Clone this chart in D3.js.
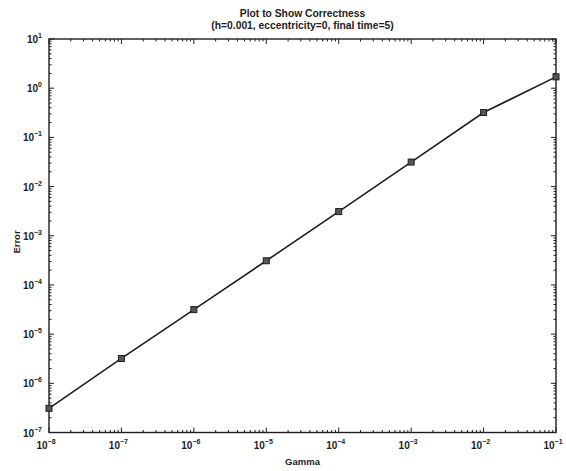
<!DOCTYPE html>
<html>
<head>
<meta charset="utf-8">
<script src="https://cdn.jsdelivr.net/npm/d3@7"></script>
<style>
  html, body { margin: 0; padding: 0; background: #fff; }
  svg { display: block; }
  text { font-family: "Liberation Sans", Arial, sans-serif; fill: #222; }
</style>
</head>
<body>
<svg id="chart" width="566" height="471"></svg>
<script>
// Error of the integrator against the perturbation parameter gamma
const gammaValues = [1e-8, 1e-7, 1e-6, 1e-5, 1e-4, 1e-3, 1e-2, 1e-1];
const errorValues = [3.1e-7, 3.2e-6, 3.15e-5, 3.1e-4, 3.1e-3, 3.15e-2, 0.32, 1.7];
const xTickExponents = [-8, -7, -6, -5, -4, -3, -2, -1];
const yTickExponents = [-7, -6, -5, -4, -3, -2, -1, 0, 1];

const titleLines = ["Plot to Show Correctness", "(h=0.001, eccentricity=0, final time=5)"];
const xLabel = "Gamma";
const yLabel = "Error";

const svg = d3.select("#chart");
const margin = { left: 49, right: 10, top: 39, bottom: 38.5 };
const W = 566, H = 471;
const x0 = margin.left, x1 = W - margin.right;
const y0 = margin.top, y1 = H - margin.bottom;

const x = d3.scaleLog().domain([1e-8, 1e-1]).range([x0, x1]);
const y = d3.scaleLog().domain([1e-7, 1e1]).range([y1, y0]);

const ink = "#1e1e1e";

// minor + major tick positions for log axes
function logTicks(lo, hi) {
  const out = [];
  for (let e = lo; e < hi; e++) {
    for (let m = 1; m < 10; m++) out.push({ v: m * Math.pow(10, e), major: m === 1 });
  }
  out.push({ v: Math.pow(10, hi), major: true });
  return out;
}

const gx = logTicks(-8, -1);
const gy = logTicks(-7, 1);

const axes = svg.append("g").attr("stroke", ink).attr("stroke-width", 1);

// inward ticks on all four sides
const majorLen = 5, minorLen = 2.5;
gx.forEach(t => {
  const px = x(t.v), L = t.major ? majorLen : minorLen;
  axes.append("line").attr("x1", px).attr("x2", px).attr("y1", y1).attr("y2", y1 - L);
  axes.append("line").attr("x1", px).attr("x2", px).attr("y1", y0).attr("y2", y0 + L);
});
gy.forEach(t => {
  const py = y(t.v), L = t.major ? majorLen : minorLen;
  axes.append("line").attr("x1", x0).attr("x2", x0 + L).attr("y1", py).attr("y2", py);
  axes.append("line").attr("x1", x1).attr("x2", x1 - L).attr("y1", py).attr("y2", py);
});

// frame
axes.append("rect")
  .attr("x", x0).attr("y", y0)
  .attr("width", x1 - x0).attr("height", y1 - y0)
  .attr("fill", "none").attr("stroke-width", 1.4);

// tick labels: 10 with superscript exponent
xTickExponents.forEach(e => {
  const t = svg.append("text")
    .attr("x", x(Math.pow(10, e)) - 3).attr("y", y1 + 16)
    .attr("text-anchor", "middle")
    .attr("font-size", 10).attr("font-weight", "bold");
  t.append("tspan").text("10");
  t.append("tspan").attr("dy", -5).attr("font-size", 7).text(String(e).replace("-", "\u2212"));
});
yTickExponents.forEach(e => {
  const t = svg.append("text")
    .attr("x", x0 - 7).attr("y", y(Math.pow(10, e)) + 4)
    .attr("text-anchor", "end")
    .attr("font-size", 10).attr("font-weight", "bold");
  t.append("tspan").text("10");
  t.append("tspan").attr("dy", -5).attr("font-size", 7).text(String(e).replace("-", "\u2212"));
});

// axis titles
svg.append("text")
  .attr("x", (x0 + x1) / 2).attr("y", 465)
  .attr("text-anchor", "middle").attr("font-size", 9.5).attr("font-weight", "bold")
  .text(xLabel);
svg.append("text")
  .attr("transform", `translate(${20},${242}) rotate(-90)`)
  .attr("text-anchor", "middle").attr("font-size", 9.5).attr("font-weight", "bold")
  .text(yLabel);

// chart title
titleLines.forEach((s, i) => {
  svg.append("text")
    .attr("x", (x0 + x1) / 2).attr("y", 16.5 + i * 12)
    .attr("text-anchor", "middle").attr("font-size", 10.3).attr("font-weight", "bold")
    .text(s);
});

// data line
const pts = gammaValues.map((g, i) => [g, errorValues[i]]);
svg.append("path")
  .datum(pts)
  .attr("fill", "none").attr("stroke", ink).attr("stroke-width", 1.6)
  .attr("d", d3.line().x(d => x(d[0])).y(d => y(d[1])));

// square markers
svg.append("g").selectAll("rect").data(pts).join("rect")
  .attr("x", d => x(d[0]) - 3).attr("y", d => y(d[1]) - 3)
  .attr("width", 6).attr("height", 6)
  .attr("fill", "#555").attr("stroke", ink).attr("stroke-width", 1);
</script>
</body>
</html>
